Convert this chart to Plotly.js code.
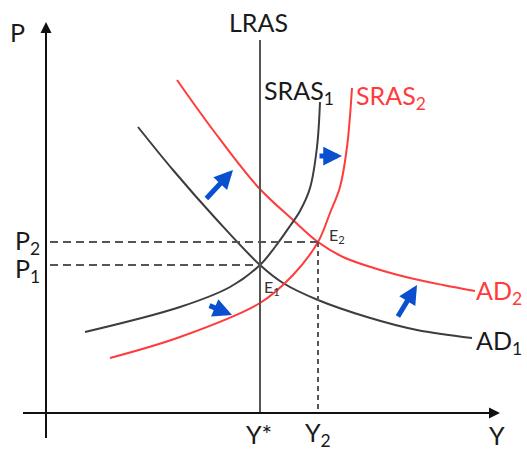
<!DOCTYPE html>
<html>
<head>
<meta charset="utf-8">
<script src="https://cdn.plot.ly/plotly-3.0.1.min.js"></script>
<style>
  html, body { margin: 0; padding: 0; background: #fff; }
  #chart { width: 527px; height: 451px; }
</style>
</head>
<body>
<div id="chart"></div>
<script>
// AS-AD diagram: output Y on the horizontal axis, price level P on the vertical.
// Origin of both axes is where they cross.
const yStar = 214;   // potential output (LRAS)
const y2 = 272;      // new equilibrium output
const p1 = 148;      // initial price level
const p2 = 171;      // new price level

// Aggregate demand, before and after the shift
const ad1X = [92, 127, 171, 214, 237, 272, 321, 371, 426];
const ad1P = [286, 243, 193, 148, 130, 113, 96, 83, 75];
const ad2X = [131, 167, 212, 247, 272, 297, 331, 364, 397, 429];
const ad2P = [333, 283, 226, 193, 171, 156, 144, 135, 128, 122];

// Short-run aggregate supply, before and after the shift
const sras1X = [39, 134, 184, 214, 229, 244, 254, 264, 271, 274];
const sras1P = [81, 106, 126, 148, 166, 187, 202, 225, 266, 311];
const sras2X = [64, 134, 214, 247, 272, 284, 294, 301, 306];
const sras2P = [55, 76, 110, 138, 171, 200, 226, 266, 325];

const lrasTop = 373;
const xAxisEnd = 454, yAxisEnd = 391;

// Shift arrows: [tailX, tailP, tipX, tipP]
const shiftArrows = [
  [159, 213, 187, 243],
  [272, 257, 296, 257],
  [162, 108, 186, 98],
  [351, 95, 371, 128]
];

const DARK = '#3d3d3d';
const RED = '#ff3b3b';
const BLUE = '#0a4fd0';
const FONT = 'Lato, "Liberation Sans", sans-serif';

function curve(x, y, color) {
  return { x: x, y: y, mode: 'lines', type: 'scatter', hoverinfo: 'skip',
           line: { color: color, width: 2, shape: 'spline', smoothing: 1 } };
}

const data = [
  curve(ad1X, ad1P, DARK),
  curve(ad2X, ad2P, RED),
  curve(sras1X, sras1P, DARK),
  curve(sras2X, sras2P, RED),
  // LRAS
  { x: [yStar, yStar], y: [0, lrasTop], mode: 'lines', hoverinfo: 'skip',
    line: { color: '#555', width: 2 } },
  // guide lines to the equilibria
  { x: [4, yStar], y: [p1, p1], mode: 'lines', hoverinfo: 'skip',
    line: { color: '#555', width: 2, dash: '8px,5px' } },
  { x: [4, y2], y: [p2, p2], mode: 'lines', hoverinfo: 'skip',
    line: { color: '#555', width: 2, dash: '8px,5px' } },
  { x: [y2, y2], y: [p2, 0], mode: 'lines', hoverinfo: 'skip',
    line: { color: '#555', width: 2, dash: '5px,4px' } }
];

function label(x, y, text, opts) {
  return Object.assign({ x: x, y: y, text: text, showarrow: false,
    xref: 'x', yref: 'y', xanchor: 'center', yanchor: 'middle',
    font: { family: FONT, size: 25, color: '#1a1a1a' } }, opts || {});
}

const annotations = [
  // axes with arrowheads
  { x: 0, y: yAxisEnd, ax: 0, ay: -25, xref: 'x', yref: 'y', axref: 'x', ayref: 'y',
    showarrow: true, arrowhead: 2, arrowsize: 1.1, arrowwidth: 2, arrowcolor: '#111', text: '' },
  { x: xAxisEnd, y: 0, ax: -23, ay: 0, xref: 'x', yref: 'y', axref: 'x', ayref: 'y',
    showarrow: true, arrowhead: 2, arrowsize: 1.1, arrowwidth: 2, arrowcolor: '#111', text: '' },

  label(-29, 381, 'P'),
  label(212, 391, 'LRAS'),
  label(216, 321, 'SRAS<sub>1</sub>', { xanchor: 'left' }),
  label(308, 316, 'SRAS<sub>2</sub>', { xanchor: 'left', font: { family: FONT, size: 25, color: RED } }),
  label(-19, 171, 'P<sub>2</sub>'),
  label(-19, 143, 'P<sub>1</sub>'),
  label(281, 178, 'E<sub>2</sub>', { xanchor: 'left', font: { family: FONT, size: 16, color: '#333' } }),
  label(216, 126, 'E<sub>1</sub>', { xanchor: 'left', font: { family: FONT, size: 16, color: '#333' } }),
  label(428, 121, 'AD<sub>2</sub>', { xanchor: 'left', font: { family: FONT, size: 25, color: RED } }),
  label(428, 71, 'AD<sub>1</sub>', { xanchor: 'left' }),
  label(213, -21, 'Y*'),
  label(272, -21, 'Y<sub>2</sub>'),
  label(451, -22, 'Y')
];

shiftArrows.forEach(function (a) {
  annotations.push({ x: a[2], y: a[3], ax: a[0], ay: a[1], xref: 'x', yref: 'y',
    axref: 'x', ayref: 'y', text: '', showarrow: true, arrowhead: 2,
    arrowsize: 0.75, arrowwidth: 5, arrowcolor: BLUE, standoff: 0 });
});

const layout = {
  width: 527, height: 451,
  margin: { l: 0, r: 0, t: 0, b: 0 },
  paper_bgcolor: '#fff', plot_bgcolor: '#fff',
  showlegend: false,
  xaxis: { range: [-46, 481], visible: false, fixedrange: true },
  yaxis: { range: [-38, 413], visible: false, fixedrange: true },
  annotations: annotations,
  shapes: [
    { type: 'line', xref: 'x', yref: 'y', x0: 0, x1: 0, y0: -25, y1: yAxisEnd - 4,
      line: { color: '#111', width: 2 } },
    { type: 'line', xref: 'x', yref: 'y', x0: -23, x1: xAxisEnd - 4, y0: 0, y1: 0,
      line: { color: '#111', width: 2 } }
  ]
};

Plotly.newPlot('chart', data, layout, { staticPlot: true, displayModeBar: false });
</script>
</body>
</html>
